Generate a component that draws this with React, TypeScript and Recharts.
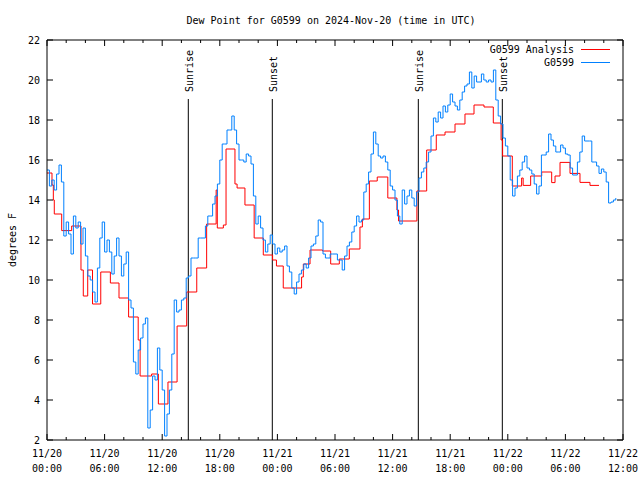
import { LineChart, Line, XAxis, YAxis, ReferenceLine, Legend } from 'recharts';

// G0599 observations, one value every 15 minutes from 11/20 00:00 UTC
const OBS_STEP_HOURS = 0.25;
const g0599Obs = [
  15.5, 14.7, 15.0, 14.5, 15.3, 15.75, 14.9, 12.2, 12.9, 12.3, 11.3, 13.2,
  12.6, 12.9, 11.8, 12.6, 11.2, 10.2, 10.0, 9.4, 8.9, 10.6, 12.1, 12.9,
  11.4, 12.0, 11.4, 10.3, 11.2, 12.1, 11.2, 10.2, 10.8, 11.4, 9.0, 8.6,
  5.9, 5.3, 6.5, 7.1, 7.8, 8.1, 2.6, 3.5, 5.2, 5.0, 6.6, 5.5,
  4.5, 2.2, 3.3, 4.5, 6.3, 9.0, 8.4, 8.5, 9.0, 9.1, 10.1, 10.2,
  11.1, 11.1, 11.1, 12.1, 12.1, 12.1, 12.7, 13.2, 13.2, 13.8, 14.2, 14.8,
  16.0, 16.8, 16.8, 17.5, 17.5, 18.2, 17.5, 16.8, 16.0, 16.0, 15.9, 16.3,
  16.2, 15.8, 14.2, 12.8, 13.2, 12.6, 12.0, 11.4, 11.8, 12.25, 11.8, 11.3,
  11.6, 11.4, 11.5, 11.7, 10.7, 10.4, 9.6, 9.3, 9.9, 10.3, 10.5, 10.8,
  10.6, 11.1, 11.7, 11.8, 12.2, 13.0, 12.9, 11.3, 11.1, 11.1, 11.3, 11.3,
  11.3, 11.0, 11.0, 10.5, 11.2, 11.7, 11.9, 12.4, 12.7, 13.2, 12.9, 13.0,
  14.4, 14.8, 15.4, 16.3, 17.4, 16.8, 16.2, 16.1, 16.2, 15.9, 15.5, 14.7,
  14.5, 14.0, 13.2, 12.8, 14.5, 13.8, 14.2, 14.5, 14.1, 13.7, 14.4, 15.1,
  15.4, 15.6, 15.9, 16.4, 17.2, 18.1, 17.9, 18.4, 18.1, 18.7, 18.4, 18.75,
  19.3, 18.9, 18.7, 18.5, 19.0, 19.4, 19.7, 19.8, 20.4, 19.6, 20.2, 19.9,
  19.9, 20.3, 20.0, 19.9, 20.0, 19.9, 20.5, 19.0, 18.2, 17.8, 17.1, 16.7,
  16.2, 15.0, 14.2, 14.6, 15.2, 15.5, 15.9, 16.2, 15.6, 15.5, 15.3, 14.8,
  14.3, 14.7, 16.25, 16.25, 16.4, 17.3, 17.0, 16.7, 16.4, 16.4, 16.75, 16.6,
  16.3, 16.25, 15.6, 15.25, 15.25, 15.9, 16.4, 17.2, 16.95, 16.95, 16.95, 15.9,
  15.9, 15.7, 15.33, 15.55, 15.4, 14.9, 13.85, 13.9, 14.0, 14.1,
];

// G0599 Analysis: hours since 11/20 00:00 where the value changes, and the new value
const analysisHours = [
  0, 0.52, 0.66, 0.76, 1.53, 2.57, 3.54, 3.78, 4.24, 4.74, 5.6, 6.6,
  7.5, 8.5, 9.5, 9.7, 10.9, 11.6, 12.6, 13.55, 14.55, 15.6, 16.63, 17.62,
  17.74, 18.37, 18.65, 19.58, 19.8, 20.62, 21.58, 22.53, 23.5, 23.9, 24.61, 26.52,
  26.7, 27.4, 28.7, 29.55, 30.45, 31.49, 32.6, 32.85, 33.58, 34.4, 35.5, 36.45,
  36.62, 38.53, 39.55, 40.55, 41.46, 42.5, 43.54, 44.48, 45.52, 46.49, 47.3, 47.46,
  48.47, 49.44, 49.6, 50.38, 51.53, 52.57, 52.92, 53.44, 54.48, 55.52, 56.56, 57.5,
];
const analysisValues = [
  15.35, 14.75, 14.0, 13.3, 12.47, 12.7, 10.5, 9.2, 10.5, 8.8, 10.4, 9.85,
  9.1, 8.15, 7.0, 5.2, 5.3, 3.8, 4.9, 7.7, 9.4, 10.6, 12.8, 14.5,
  12.6, 12.75, 16.55, 14.8, 14.6, 13.75, 12.1, 11.25, 11.0, 10.7, 9.6, 10.15,
  10.8, 11.5, 11.45, 10.8, 11.05, 11.55, 12.65, 13.05, 14.95, 15.15, 14.1, 13.5,
  12.95, 14.45, 16.5, 17.25, 17.4, 17.8, 18.3, 18.75, 18.65, 17.85, 17.0, 16.2,
  14.7, 15.1, 14.73, 15.2, 15.4, 14.87, 15.2, 15.88, 15.33, 14.88, 14.73, 14.73,
];

const sunEvents = [
  { label: 'Sunrise', hour: 14.72 },
  { label: 'Sunset', hour: 23.47 },
  { label: 'Sunrise', hour: 38.68 },
  { label: 'Sunset', hour: 47.43 },
];

const xTicks = [0, 2, 4, 6, 8, 10, 12, 14, 16, 18, 20, 22, 24, 26, 28, 30, 32, 34, 36, 38, 40, 42, 44, 46, 48, 50, 52, 54, 56, 58, 60];
const tickDays = ['11/20', '11/20', '11/20', '11/20', '11/21', '11/21', '11/21', '11/21', '11/22', '11/22', '11/22'];
const tickTimes = ['00:00', '06:00', '12:00', '18:00', '00:00', '06:00', '12:00', '18:00', '00:00', '06:00', '12:00'];
const yTicks = [2, 4, 6, 8, 10, 12, 14, 16, 18, 20, 22];

const FONT = 'DejaVu Sans Mono, monospace';
const BLUE = '#0080ff';
const RED = '#ff0000';

const obsData = g0599Obs.map((v, i) => ({ t: i * OBS_STEP_HOURS, v }));
const analysisData = analysisHours.map((t, i) => ({ t, v: analysisValues[i] }));

function BottomTick({ x, y, payload }: any) {
  const major = payload.value % 6 === 0;
  const i = payload.value / 6;
  return (
    <g>
      <line x1={x} x2={x} y1={y} y2={y - (major ? 6 : 3)} stroke="#000" />
      {major && (
        <text x={x} y={y} textAnchor="middle" fontFamily={FONT} fontSize={10} fill="#000">
          <tspan x={x} dy={17}>{tickDays[i]}</tspan>
          <tspan x={x} dy={15}>{tickTimes[i]}</tspan>
        </text>
      )}
    </g>
  );
}

function TopTick({ x, y, payload }: any) {
  const major = payload.value % 6 === 0;
  return <line x1={x} x2={x} y1={y} y2={y + (major ? 6 : 3)} stroke="#000" />;
}

function LeftTick({ x, y, payload }: any) {
  return (
    <g>
      <line x1={x} x2={x + 6} y1={y} y2={y} stroke="#000" />
      <text x={x - 7} y={y} dy={4} textAnchor="end" fontFamily={FONT} fontSize={10} fill="#000">
        {payload.value}
      </text>
    </g>
  );
}

function RightTick({ x, y }: any) {
  return <line x1={x} x2={x - 6} y1={y} y2={y} stroke="#000" />;
}

const sunLabel = (name: string) => (props: any) => {
  const { x, y } = props.viewBox;
  return (
    <text transform={`translate(${x + 5},${y - 7}) rotate(-90)`} fontFamily={FONT} fontSize={10} fill="#000">
      {name}
    </text>
  );
};

function LegendBox() {
  return (
    <svg width={150} height={30}>
      <text x={104} y={11} textAnchor="end" fontFamily={FONT} fontSize={10}>G0599 Analysis</text>
      <line x1={111} x2={140} y1={7.5} y2={7.5} stroke={RED} />
      <text x={104} y={24} textAnchor="end" fontFamily={FONT} fontSize={10}>G0599</text>
      <line x1={111} x2={140} y1={20.5} y2={20.5} stroke={BLUE} />
    </svg>
  );
}

export default function App() {
  return (
    <div style={{ position: 'absolute', left: 0, top: 0, background: '#fff' }}>
      <LineChart width={640} height={480} data={obsData} margin={{ top: 39, right: 16, bottom: 0, left: 0 }}>
        <text x={331} y={24} textAnchor="middle" fontFamily={FONT} fontSize={10} fill="#000">
          Dew Point for G0599 on 2024-Nov-20 (time in UTC)
        </text>
        <XAxis xAxisId="b" dataKey="t" type="number" domain={[0, 60]} ticks={xTicks} allowDataOverflow
          height={40} tickSize={0} tickMargin={0} tick={<BottomTick />} stroke="#000" interval={0} />
        <XAxis xAxisId="t" orientation="top" dataKey="t" type="number" domain={[0, 60]} ticks={xTicks} allowDataOverflow
          height={1} tickSize={0} tickMargin={0} tick={<TopTick />} stroke="#000" interval={0} />
        <YAxis yAxisId="l" type="number" domain={[2, 22]} ticks={yTicks} allowDataOverflow
          width={47} tickSize={0} tickMargin={0} tick={<LeftTick />} stroke="#000" interval={0}
          label={(p: any) => (
            <text transform={`translate(16,${p.viewBox.y + p.viewBox.height / 2}) rotate(-90)`} textAnchor="middle"
              fontFamily={FONT} fontSize={10} fill="#000">degrees F</text>
          )} />
        <YAxis yAxisId="r" orientation="right" type="number" domain={[2, 22]} ticks={yTicks} allowDataOverflow
          width={1} tickSize={0} tickMargin={0} tick={<RightTick />} stroke="#000" interval={0} />
        {sunEvents.map((s, i) => (
          <ReferenceLine key={i} xAxisId="b" yAxisId="l" stroke="#000"
            segment={[{ x: s.hour, y: 2 }, { x: s.hour, y: 19.05 }]} label={sunLabel(s.label)} />
        ))}
        <Line xAxisId="b" yAxisId="l" data={analysisData} dataKey="v" type="stepAfter" stroke={RED}
          strokeWidth={1} dot={false} isAnimationActive={false} />
        <Line xAxisId="b" yAxisId="l" data={obsData} dataKey="v" type="stepAfter" stroke={BLUE}
          strokeWidth={1} dot={false} isAnimationActive={false} />
        <Legend layout="horizontal" verticalAlign="middle" align="center" content={<LegendBox />}
          wrapperStyle={{ top: 42, left: 470, width: 150 }} />
      </LineChart>
    </div>
  );
}
